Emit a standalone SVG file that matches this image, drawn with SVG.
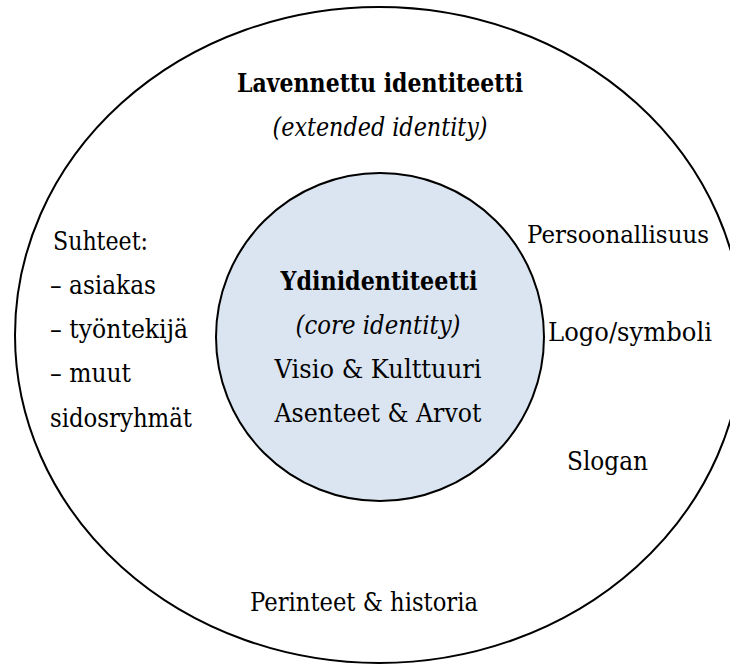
<svg xmlns="http://www.w3.org/2000/svg" width="730" height="665" viewBox="0 0 730 665">
<style>
  text { font-family: 'DejaVu Serif', 'Liberation Serif', serif; font-size: 26px; fill: #000; }
  .b { font-weight: bold; }
  .i { font-style: italic; }
  .c { text-anchor: middle; }
  .e { text-anchor: end; }
  .ring { fill: #ffffff; stroke: #000; stroke-width: 2; }
  .core { fill: #dbe5f1; stroke: #000; stroke-width: 2; }
</style>
<rect width="730" height="665" fill="#ffffff"/>
<g id="extended-identity">
  <ellipse class="ring" cx="379" cy="335" rx="364" ry="328"/>
  <text class="b c" x="380" y="92" textLength="286" lengthAdjust="spacingAndGlyphs">Lavennettu identiteetti</text>
  <text class="i c" x="380" y="136" textLength="215" lengthAdjust="spacingAndGlyphs">(extended identity)</text>
</g>
<g id="relations">
  <text x="53" y="250" textLength="95" lengthAdjust="spacingAndGlyphs">Suhteet:</text>
  <text x="50" y="294" textLength="106" lengthAdjust="spacingAndGlyphs">– asiakas</text>
  <text x="50" y="338" textLength="138" lengthAdjust="spacingAndGlyphs">– työntekijä</text>
  <text x="50" y="382" textLength="81" lengthAdjust="spacingAndGlyphs">– muut</text>
  <text x="50" y="427" textLength="142" lengthAdjust="spacingAndGlyphs">sidosryhmät</text>
</g>
<g id="personality"><text class="e" x="709" y="243" style="font-size:24px" textLength="182" lengthAdjust="spacingAndGlyphs">Persoonallisuus</text></g>
<g id="logo"><text class="e" x="712" y="341" textLength="164" lengthAdjust="spacingAndGlyphs">Logo/symboli</text></g>
<g id="slogan"><text x="567" y="470" textLength="81" lengthAdjust="spacingAndGlyphs">Slogan</text></g>
<g id="heritage"><text class="c" x="364" y="611" textLength="228" lengthAdjust="spacingAndGlyphs">Perinteet &amp; historia</text></g>
<g id="core-identity">
  <circle class="core" cx="380" cy="337" r="164"/>
  <text class="b c" x="379" y="290" textLength="197" lengthAdjust="spacingAndGlyphs">Ydinidentiteetti</text>
  <text class="i c" x="378" y="334" textLength="165" lengthAdjust="spacingAndGlyphs">(core identity)</text>
  <text class="c" x="378" y="378" textLength="207" lengthAdjust="spacingAndGlyphs">Visio &amp; Kulttuuri</text>
  <text class="c" x="378" y="422" textLength="207" lengthAdjust="spacingAndGlyphs">Asenteet &amp; Arvot</text>
</g>
<g id="connectors"></g>
</svg>
